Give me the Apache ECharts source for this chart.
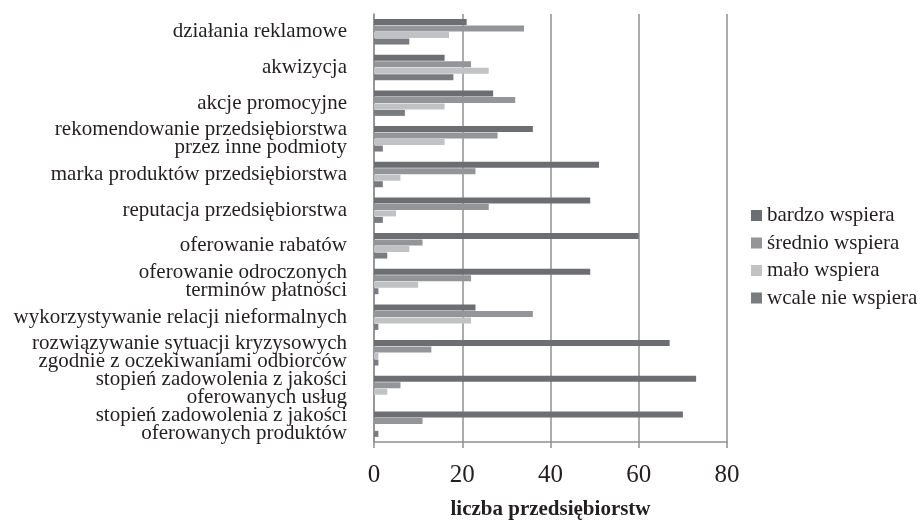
<!DOCTYPE html>
<html>
<head>
<meta charset="utf-8">
<script src="https://cdn.jsdelivr.net/npm/echarts@6/dist/echarts.min.js"></script>
<style>html,body{margin:0;padding:0;background:#fff}#c{width:918px;height:521px}</style>
</head>
<body>
<div id="c"></div>
<script>
var categories = [
  'działania reklamowe',
  'akwizycja',
  'akcje promocyjne',
  'rekomendowanie przedsiębiorstwa\nprzez inne podmioty',
  'marka produktów przedsiębiorstwa',
  'reputacja przedsiębiorstwa',
  'oferowanie rabatów',
  'oferowanie odroczonych\nterminów płatności',
  'wykorzystywanie relacji nieformalnych',
  'rozwiązywanie sytuacji kryzysowych\nzgodnie z oczekiwaniami odbiorców',
  'stopień zadowolenia z jakości\noferowanych usług',
  'stopień zadowolenia z jakości\noferowanych produktów'
];
var seriesNames = ['bardzo wspiera', 'średnio wspiera', 'mało wspiera', 'wcale nie wspiera'];
var bardzo = [21, 16, 27, 36, 51, 49, 60, 49, 23, 67, 73, 70];
var srednio = [34, 22, 32, 28, 23, 26, 11, 22, 36, 13, 6, 11];
var malo = [17, 26, 16, 16, 6, 5, 8, 10, 22, 1, 3, 0];
var wcale = [8, 18, 7, 2, 2, 2, 3, 1, 1, 1, 0, 1];
var xTicks = [0, 20, 40, 60, 80];
var axisTitle = 'liczba przedsiębiorstw';

var colors = ['#6d6e71', '#949598', '#c1c2c4', '#7a7b7e'];
var font = 'Liberation Serif';
var dataSets = [bardzo, srednio, malo, wcale];

var chart = echarts.init(document.getElementById('c'));
chart.setOption({
  animation: false,
  backgroundColor: '#ffffff',
  textStyle: { fontFamily: font },
  grid: { left: 374, right: 191, top: 14, bottom: 79, containLabel: false, outerBoundsMode: 'none' },
  legend: {
    orient: 'vertical',
    left: 746,
    top: 200,
    itemWidth: 11,
    itemHeight: 11,
    itemGap: 6.5,
    icon: 'rect',
    data: seriesNames,
    textStyle: { fontFamily: font, fontSize: 21, color: '#231f20' }
  },
  xAxis: {
    type: 'value',
    min: xTicks[0],
    max: xTicks[xTicks.length - 1],
    interval: 20,
    name: axisTitle,
    nameLocation: 'middle',
    nameGap: 57,
    nameTextStyle: { fontFamily: font, fontSize: 21, fontWeight: 'bold', color: '#231f20' },
    axisLine: { show: true, lineStyle: { color: '#8f9093', width: 1.5 } },
    axisTick: { show: true, length: 6, lineStyle: { color: '#8f9093', width: 1.5 } },
    axisLabel: { fontFamily: font, fontSize: 25, color: '#231f20', margin: 21 },
    splitLine: { show: true, lineStyle: { color: '#8f9093', width: 1.5 } }
  },
  yAxis: {
    type: 'category',
    inverse: true,
    data: categories,
    axisLine: { show: true, lineStyle: { color: '#8f9093', width: 1.5 } },
    axisTick: { show: false },
    axisLabel: { interval: 0, fontFamily: font, fontSize: 21, lineHeight: 18, color: '#231f20', margin: 27, align: 'right', padding: [3, 0, 0, 0] }
  },
  series: seriesNames.map(function (n, i) {
    return {
      name: n,
      type: 'bar',
      data: dataSets[i],
      barWidth: 6,
      barGap: '8%',
      itemStyle: { color: colors[i] }
    };
  })
});
</script>
</body>
</html>
